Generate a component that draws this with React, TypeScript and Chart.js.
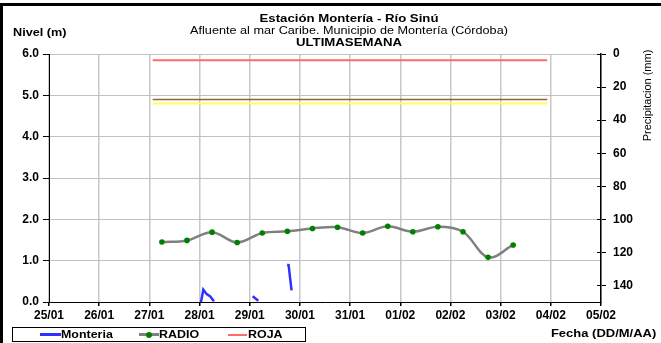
import React, { useEffect, useRef } from "react";
import { Chart, registerables } from "chart.js";

Chart.register(...registerables);

// ---- data ----
const dateLabels = ["25/01", "26/01", "27/01", "28/01", "29/01", "30/01", "31/01", "01/02", "02/02", "03/02", "04/02", "05/02"];
const levelTicks = [0, 1, 2, 3, 4, 5, 6];
const rainTicks = [0, 20, 40, 60, 80, 100, 120, 140];

// hours since 25/01 00:00
const radioHours = [54, 66, 78, 90, 102, 114, 126, 138, 150, 162, 174, 186, 198, 210, 222];
const radioLevels = [1.45, 1.49, 1.69, 1.44, 1.67, 1.71, 1.78, 1.81, 1.67, 1.83, 1.7, 1.82, 1.7, 1.08, 1.38];

const monteriaHours = [72.7, 73.8, 75.4, 77.0, 78.9, 79.5, 97.4, 100.1, 101.0, 113.9, 114.6, 116.0];
const monteriaLevels = [0.0, 0.3, 0.19, 0.14, 0.02, null, 0.14, 0.03, null, 0.9, 0.89, 0.28];

const alertHours = [49.6, 238.3];
const rojaLevel = 5.85;
const naranjaLevel = 4.9;
const amarillaLevel = 4.8;

const FONT = '"Liberation Sans", Arial, sans-serif';

function toPoints(hours: number[], vals: (number | null)[]) {
  return hours.map((h, i) => ({ x: h / 24, y: vals[i] }));
}

const innerTicks = {
  id: "innerTicks",
  afterDraw(chart: any) {
    const s = chart.scales.y2;
    if (!s) return;
    const ctx = chart.ctx;
    ctx.save();
    ctx.strokeStyle = "#000";
    ctx.lineWidth = 1;
    s.ticks.forEach((t: any) => {
      const y = Math.round(s.getPixelForValue(t.value)) + 0.5;
      ctx.beginPath();
      ctx.moveTo(chart.chartArea.right - 4, y);
      ctx.lineTo(chart.chartArea.right, y);
      ctx.stroke();
    });
    ctx.restore();
  },
};

export default function App() {
  const ref = useRef<HTMLCanvasElement | null>(null);

  useEffect(() => {
    if (!ref.current) return;
    const tickFont = { family: FONT, size: 12, weight: "bold" as const };
    const chart = new Chart(ref.current, {
      type: "line",
      data: {
        datasets: [
          {
            label: "Monteria",
            data: toPoints(monteriaHours, monteriaLevels),
            borderColor: "#3030ff",
            borderWidth: 2.5,
            pointRadius: 0,
            spanGaps: false,
            tension: 0,
            yAxisID: "y",
            order: 1,
          },
          {
            label: "RADIO",
            data: toPoints(radioHours, radioLevels),
            borderColor: "#808080",
            borderWidth: 2.5,
            pointRadius: 2.8,
            pointBackgroundColor: "#008000",
            pointBorderWidth: 0,
            tension: 0.35,
            yAxisID: "y",
            order: 2,
          },
          {
            label: "ROJA",
            data: toPoints(alertHours, [rojaLevel, rojaLevel]),
            borderColor: "#ff6b6b",
            borderWidth: 2,
            pointRadius: 0,
            yAxisID: "y",
            order: 3,
          },
          {
            label: "NARANJA",
            data: toPoints(alertHours, [naranjaLevel, naranjaLevel]),
            borderColor: "#9a6030",
            borderWidth: 1.5,
            pointRadius: 0,
            yAxisID: "y",
            order: 4,
          },
          {
            label: "AMARILLA",
            data: toPoints(alertHours, [amarillaLevel, amarillaLevel]),
            borderColor: "#ffff55",
            borderWidth: 2,
            pointRadius: 0,
            yAxisID: "y",
            order: 5,
          },
        ],
      },
      options: {
        animation: false,
        responsive: false,
        maintainAspectRatio: false,
        layout: { padding: { top: 54, left: 0, right: 0, bottom: 0 } },
        plugins: {
          legend: { display: false },
          title: { display: false },
          tooltip: { enabled: false },
        },
        scales: {
          x: {
            type: "linear",
            min: 0,
            max: dateLabels.length - 1,
            afterBuildTicks: (s: any) => {
              s.ticks = dateLabels.map((_, i) => ({ value: i }));
            },
            afterFit: (s: any) => {
              s.height = 41;
            },
            ticks: {
              callback: (v: any) => dateLabels[Math.round(v)],
              font: tickFont,
              color: "#000",
              padding: 2,
              maxRotation: 0,
              autoSkip: false,
            },
            grid: { color: "#c8c8c8", lineWidth: 1.5, tickColor: "#000", tickLength: 4 },
            border: { color: "#000", width: 1 },
          },
          y: {
            position: "left",
            min: 0,
            max: 6,
            afterBuildTicks: (s: any) => {
              s.ticks = levelTicks.map((v) => ({ value: v }));
            },
            afterFit: (s: any) => {
              s.width = 49;
            },
            ticks: {
              callback: (v: any) => Number(v).toFixed(1),
              font: tickFont,
              color: "#000",
              padding: 4,
            },
            grid: { color: "#c0c0c0", lineWidth: 1, tickColor: "#000", tickLength: 6 },
            border: { color: "#000", width: 1 },
          },
          y2: {
            position: "right",
            reverse: true,
            min: 0,
            max: 150,
            afterBuildTicks: (s: any) => {
              s.ticks = rainTicks.map((v) => ({ value: v }));
            },
            afterFit: (s: any) => {
              s.width = 60;
            },
            ticks: {
              callback: (v: any) => String(v),
              font: tickFont,
              color: "#000",
              padding: 7,
            },
            grid: { drawOnChartArea: false, tickColor: "#000", tickLength: 5 },
            border: { color: "#000", width: 1.5 },
          },
        },
      },
      plugins: [innerTicks],
    });
    return () => chart.destroy();
  }, []);

  const txt: React.CSSProperties = {
    position: "absolute",
    fontFamily: FONT,
    fontSize: 11,
    lineHeight: "13px",
    color: "#000",
    whiteSpace: "nowrap",
  };

  return (
    <div style={{ position: "absolute", left: 0, top: 0, width: 661, height: 343, background: "#fff", overflow: "hidden" }}>
      <canvas ref={ref} width={661} height={343} style={{ position: "absolute", left: 0, top: 0, width: 661, height: 343 }} />
      <div style={{ position: "absolute", left: 0, top: 3, width: 661, height: 340, borderLeft: "3px solid #000", borderTop: "3px solid #000", boxSizing: "border-box" }} />
      <div style={{ ...txt, left: 149, width: 400, top: 12, textAlign: "center", fontWeight: "bold", transform: "scaleX(1.2)" }}>Estación Montería  - Río Sinú</div>
      <div style={{ ...txt, left: 149, width: 400, top: 24, textAlign: "center", transform: "scaleX(1.15)" }}>Afluente al mar Caribe. Municipio de Montería (Córdoba)</div>
      <div style={{ ...txt, left: 149, width: 400, top: 36, textAlign: "center", fontWeight: "bold", transform: "scaleX(1.2)" }}>ULTIMASEMANA</div>
      <div style={{ ...txt, left: 13, top: 26, fontWeight: "bold", transform: "scaleX(1.15)", transformOrigin: "left center" }}>Nivel (m)</div>
      <div style={{ ...txt, left: 597, width: 100, top: 89, textAlign: "center", transform: "rotate(-90deg)" }}>Precipitacion (mm)</div>
      <div style={{ ...txt, right: 5, top: 327, fontWeight: "bold", transform: "scaleX(1.18)", transformOrigin: "right center" }}>Fecha (DD/M/AA)</div>
      <div style={{ position: "absolute", left: 12, top: 327, width: 294, height: 15, border: "1px solid #000", boxSizing: "border-box" }}>
        <div style={{ position: "absolute", left: 27, top: 5, width: 21, height: 3, background: "#3030ff" }} />
        <div style={{ ...txt, left: 48, top: 0, fontWeight: "bold", transform: "scaleX(1.13)", transformOrigin: "left center" }}>Monteria</div>
        <div style={{ position: "absolute", left: 126, top: 5, width: 20, height: 3, background: "#808080" }} />
        <div style={{ position: "absolute", left: 133, top: 3.5, width: 6, height: 6, borderRadius: 3, background: "#008000" }} />
        <div style={{ ...txt, left: 146, top: 0, fontWeight: "bold", transform: "scaleX(1.13)", transformOrigin: "left center" }}>RADIO</div>
        <div style={{ position: "absolute", left: 215, top: 5.5, width: 19, height: 2, background: "#ff6b6b" }} />
        <div style={{ ...txt, left: 235, top: 0, fontWeight: "bold", transform: "scaleX(1.13)", transformOrigin: "left center" }}>ROJA</div>
      </div>
    </div>
  );
}
